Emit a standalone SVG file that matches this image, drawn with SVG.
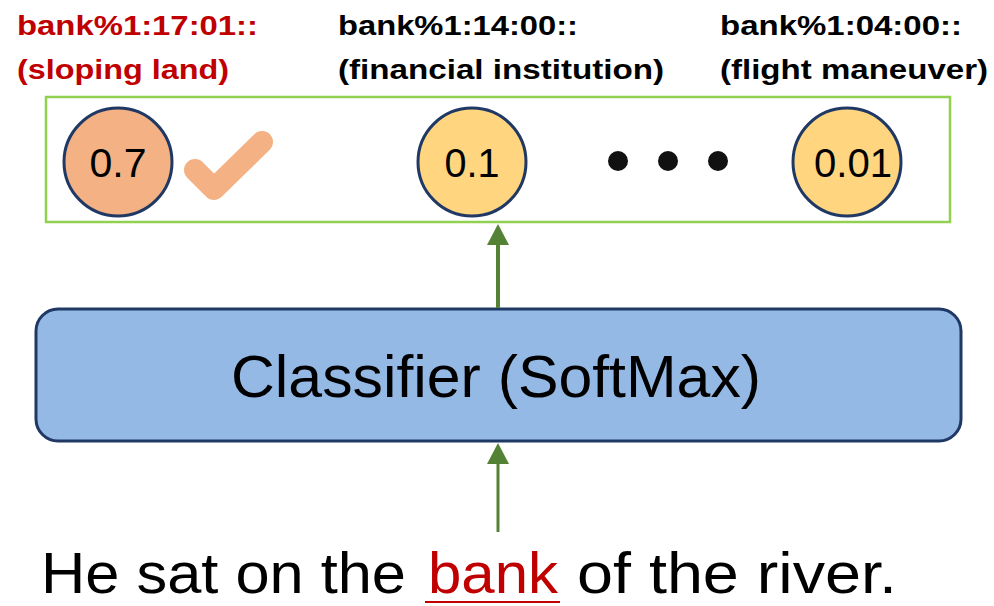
<svg xmlns="http://www.w3.org/2000/svg" width="994" height="606" viewBox="0 0 994 606">
  <style>
    .lbl { font-family: "Liberation Sans", Arial, sans-serif; font-weight: bold; font-size: 28px; fill: #000000; }
    .prob { fill: #FFD580; stroke: #1F3864; stroke-width: 3; }
    .prob.hit { fill: #F4B183; }
    .num { font-family: "Liberation Sans", Arial, sans-serif; font-size: 40px; fill: #000000; }
    .big { font-family: "Liberation Sans", Arial, sans-serif; font-size: 60px; fill: #000000; }
    .sent { font-family: "Liberation Sans", Arial, sans-serif; font-size: 57px; fill: #000000; }
    .link { stroke: #548235; fill: none; }
    .red { fill: #C00000; }
  </style>
  <defs>
    <!-- arrowhead: base sits on the line end, tip extends 21px beyond -->
    <marker id="arrow" viewBox="0 0 21 22" refX="0" refY="11" markerWidth="21" markerHeight="22" markerUnits="userSpaceOnUse" orient="auto">
      <path d="M0,0 L21,11 L0,22 Z" fill="#548235"/>
    </marker>
  </defs>
  <rect width="994" height="606" fill="#FFFFFF"/>

  <!-- sense labels -->
  <g id="sense-labels">
    <text class="lbl red" x="17" y="35" textLength="241" lengthAdjust="spacingAndGlyphs">bank%1:17:01::</text>
    <text class="lbl red" x="17" y="79" textLength="212" lengthAdjust="spacingAndGlyphs">(sloping land)</text>
    <text class="lbl" x="338" y="35" textLength="240" lengthAdjust="spacingAndGlyphs">bank%1:14:00::</text>
    <text class="lbl" x="338" y="79" textLength="326" lengthAdjust="spacingAndGlyphs">(financial institution)</text>
    <text class="lbl" x="720" y="35" textLength="242" lengthAdjust="spacingAndGlyphs">bank%1:04:00::</text>
    <text class="lbl" x="720" y="79" textLength="268" lengthAdjust="spacingAndGlyphs">(flight maneuver)</text>
  </g>

  <!-- output distribution -->
  <g id="output">
    <rect x="46" y="97" width="904" height="125" fill="none" stroke="#92D050" stroke-width="2.5"/>
    <g id="sense-1">
      <circle class="prob hit" cx="118" cy="162" r="54"/>
      <text class="num" x="118" y="177" text-anchor="middle" textLength="57" lengthAdjust="spacingAndGlyphs">0.7</text>
      <polyline points="195,170 214,189 262,142" fill="none" stroke="#F4B183" stroke-width="22" stroke-linecap="round" stroke-linejoin="round"/>
    </g>
    <g id="sense-2">
      <circle class="prob" cx="472" cy="162" r="54"/>
      <text class="num" x="472" y="177" text-anchor="middle" textLength="55" lengthAdjust="spacingAndGlyphs">0.1</text>
    </g>
    <g id="ellipsis">
      <circle cx="618" cy="161" r="10" fill="#111111"/>
      <circle cx="668" cy="161" r="10" fill="#111111"/>
      <circle cx="718" cy="161" r="10" fill="#111111"/>
    </g>
    <g id="sense-n">
      <circle class="prob" cx="847" cy="162" r="54"/>
      <text class="num" x="853" y="177" text-anchor="middle" textLength="78" lengthAdjust="spacingAndGlyphs">0.01</text>
    </g>
  </g>

  <!-- classifier -->
  <g id="classifier">
    <rect x="36" y="309" width="925" height="132" rx="22" ry="22" fill="#95B9E5" stroke="#1F3864" stroke-width="3"/>
    <text class="big" x="231" y="397" textLength="530" lengthAdjust="spacingAndGlyphs">Classifier (SoftMax)</text>
  </g>

  <!-- input sentence -->
  <g id="sentence">
    <text class="sent" x="41" y="593" textLength="365" lengthAdjust="spacingAndGlyphs">He sat on the</text>
    <text class="sent red" x="428" y="593" textLength="130" lengthAdjust="spacingAndGlyphs">bank</text>
    <line x1="425" y1="602" x2="560" y2="602" stroke="#C00000" stroke-width="2"/>
    <text class="sent" x="577" y="593" textLength="320" lengthAdjust="spacingAndGlyphs">of the river.</text>
  </g>

  <!-- connectors -->
  <g id="connectors">
    <line class="link" x1="498" y1="308" x2="498" y2="245" stroke-width="4" marker-end="url(#arrow)"/>
    <line class="link" x1="498" y1="532" x2="498" y2="464" stroke-width="3" marker-end="url(#arrow)"/>
  </g>
</svg>
